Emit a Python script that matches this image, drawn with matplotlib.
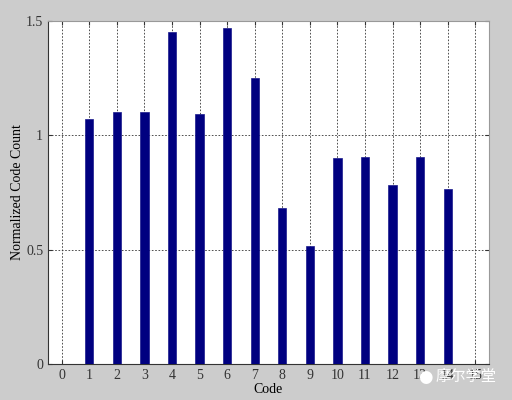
import numpy as np
import matplotlib.pyplot as plt

codes = list(range(16))
counts = [0, 1.07, 1.10, 1.10, 1.452, 1.093, 1.469, 1.25,
          0.682, 0.514, 0.90, 0.907, 0.781, 0.905, 0.765, 0]
xticks = list(range(16))
yticks = [0, 0.5, 1, 1.5]
ytick_labels = ["0", "0.5", "1", "1.5"]

plt.rcParams['font.family'] = ['Liberation Serif', 'DejaVu Serif']

fig = plt.figure(figsize=(5.12, 4.0), dpi=100, facecolor="#cccccc")
ax = fig.add_axes([48 / 512, 1 - 364 / 400, 441 / 512, 343 / 400])
ax.set_facecolor("white")

ax.bar(codes, counts, width=0.3, color="#000080", edgecolor="#1a1a8c",
       linewidth=0.5, zorder=3)

ax.set_xlim(-0.5, 15.5)
ax.set_ylim(0, 1.5)
ax.set_xticks(xticks)
ax.set_yticks(yticks)
ax.set_yticklabels(ytick_labels)
ax.grid(True, linestyle=(0, (2, 2)), color="#333333", linewidth=0.6, zorder=0)
ax.tick_params(direction="in", length=3, labelsize=10, colors="#333333",
               top=True, right=True)
for side, sp in ax.spines.items():
    sp.set_color("#333333" if side in ("left", "bottom") else "#999999")
    sp.set_linewidth(0.8)

ax.set_xlabel("Code", fontsize=10, labelpad=1)
ax.set_ylabel("Normalized Code Count", fontsize=10, labelpad=1)

# watermark (wechat style)
fig.text(0.83, 0.057, "\u25cf", color="white", fontsize=12,
         ha="center", va="center", family=['DejaVu Sans'])
fig.text(0.97, 0.06, "摩尔学堂", color="white", fontsize=11,
         ha="right", va="center",
         family=['Noto Sans CJK SC', 'DejaVu Sans'])

fig.savefig("out.png", dpi=100, facecolor=fig.get_facecolor())
